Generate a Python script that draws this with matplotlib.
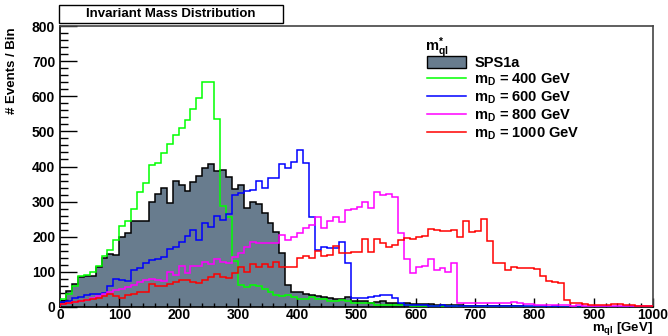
import numpy as np
import matplotlib
matplotlib.use("Agg")
import matplotlib.pyplot as plt
from matplotlib.patches import Rectangle, Patch
from matplotlib.lines import Line2D
from matplotlib.ticker import MultipleLocator

plt.rcParams['font.family'] = ['Liberation Sans', 'DejaVu Sans']
plt.rcParams['font.weight'] = 'bold'
plt.rcParams['mathtext.fontset'] = 'custom'
plt.rcParams['mathtext.rm'] = 'Liberation Sans:bold'
plt.rcParams['mathtext.it'] = 'Liberation Sans:bold'
plt.rcParams['mathtext.bf'] = 'Liberation Sans:bold'

# bin edges: 0..1000 GeV, 10 GeV bins
bin_edges = np.arange(0, 1001, 10)

sps1a = [15, 45, 65, 85, 88, 88, 114, 140, 152, 149,
         200, 211, 244, 244, 246, 300, 322, 338, 295, 358,
         346, 329, 355, 373, 396, 408, 386, 391, 370, 336,
         348, 283, 300, 293, 268, 240, 214, 155, 62, 44,
         42, 36, 33, 30, 29, 25, 24, 24, 29, 18,
         17, 18, 12, 15, 16, 12, 10, 9, 10, 9,
         8, 8, 9, 7, 6, 7, 5, 5, 4, 4,
         4, 3, 3, 3, 2, 2, 2, 2, 1, 1,
         1, 1, 1, 1, 0, 1, 0, 0, 1, 0,
         0, 0, 0, 0, 0, 0, 0, 0, 0, 0]

md400 = [23, 37, 61, 87, 91, 100, 118, 145, 163, 190,
         231, 244, 279, 327, 353, 405, 410, 439, 463, 491,
         510, 531, 563, 594, 640, 640, 536, 287, 255, 130,
         63, 57, 62, 59, 50, 43, 33, 30, 35, 29,
         24, 24, 29, 22, 22, 17, 17, 19, 17, 12,
         10, 10, 10, 7, 7, 6, 6, 5, 5, 4,
         3, 3, 3, 2, 2, 2, 2, 1, 1, 1,
         1, 1, 1, 1, 0, 1, 0, 0, 0, 0,
         0, 0, 0, 0, 0, 0, 0, 0, 0, 0,
         0, 0, 0, 0, 0, 0, 0, 0, 0, 0]

md600 = [14, 17, 26, 29, 33, 36, 36, 40, 59, 81,
         78, 74, 105, 110, 124, 133, 138, 141, 165, 172,
         184, 201, 220, 191, 239, 227, 258, 247, 266, 318,
         324, 331, 334, 358, 339, 366, 366, 408, 396, 412,
         446, 410, 256, 162, 172, 167, 168, 184, 125, 26,
         26, 26, 29, 31, 33, 33, 26, 12, 7, 6,
         5, 5, 4, 4, 5, 4, 4, 3, 4, 3,
         3, 3, 3, 2, 3, 2, 2, 2, 2, 2,
         2, 2, 1, 2, 1, 1, 1, 1, 1, 1,
         1, 1, 1, 1, 1, 0, 1, 0, 0, 0]

md800 = [8, 10, 13, 16, 20, 26, 30, 36, 42, 48,
         52, 57, 62, 70, 76, 80, 78, 74, 100, 92,
         117, 98, 117, 117, 129, 123, 136, 129, 126, 143,
         155, 170, 186, 181, 181, 183, 182, 206, 191, 198,
         210, 226, 234, 255, 226, 244, 255, 242, 277, 280,
         285, 298, 283, 327, 320, 321, 312, 212, 136, 98,
         113, 117, 138, 106, 110, 101, 125, 12, 12, 11,
         11, 12, 11, 10, 10, 10, 13, 10, 8, 8,
         7, 6, 6, 5, 5, 5, 4, 5, 4, 4,
         4, 3, 3, 3, 3, 3, 2, 2, 2, 2]

md1000 = [8, 11, 14, 18, 20, 22, 25, 30, 38, 30,
          27, 35, 36, 44, 44, 66, 60, 60, 65, 72,
          77, 76, 72, 67, 77, 86, 93, 85, 82, 96,
          113, 101, 123, 115, 123, 115, 127, 115, 113, 113,
          139, 146, 139, 160, 144, 148, 174, 154, 155, 158,
          158, 193, 156, 193, 181, 171, 177, 190, 196, 193,
          200, 203, 222, 218, 217, 215, 218, 199, 246, 213,
          215, 251, 187, 126, 124, 106, 113, 110, 112, 110,
          108, 88, 74, 72, 69, 20, 12, 12, 9, 6,
          5, 5, 6, 8, 9, 7, 5, 4, 3, 3]

labels = ["SPS1a", r"m$_{\mathrm{D}}$ = 400 GeV", r"m$_{\mathrm{D}}$ = 600 GeV",
          r"m$_{\mathrm{D}}$ = 800 GeV", r"m$_{\mathrm{D}}$ = 1000 GeV"]
legend_title = r"m$^{*}_{\mathrm{ql}}$"
line_colors = ["#00ff00", "#0000ff", "#ff00ff", "#ff0000"]
fill_color = "#687c8e"

W, H = 668, 336
fig = plt.figure(figsize=(W / 100, H / 100), dpi=100)
ax = fig.add_axes([60 / W, 1 - 307 / H, (653 - 60) / W, (307 - 26) / H])

ax.stairs(sps1a, bin_edges, fill=True, color=fill_color, zorder=1)
ax.stairs(sps1a, bin_edges, color="black", lw=1.1, zorder=2, baseline=0)
for vals, c in zip([md400, md600, md800, md1000], line_colors):
    ax.stairs(vals, bin_edges, color=c, lw=1.1, zorder=3)

ax.set_xlim(0, 1000)
ax.set_ylim(0, 800)
ax.xaxis.set_major_locator(MultipleLocator(100))
ax.xaxis.set_minor_locator(MultipleLocator(20))
ax.yaxis.set_major_locator(MultipleLocator(100))
ax.yaxis.set_minor_locator(MultipleLocator(20))
ax.tick_params(axis='y', which='major', direction='in', length=12, width=1.0, labelsize=10, pad=3.5)
ax.tick_params(axis='y', which='minor', direction='in', length=6, width=1.0)
ax.tick_params(axis='x', which='major', direction='in', length=6.5, width=1.0, labelsize=10, pad=1.0)
ax.tick_params(axis='x', which='minor', direction='in', length=3.2, width=1.0)
for lab in ax.get_xticklabels() + ax.get_yticklabels():
    lab.set_fontweight('bold')
for s in ['left', 'bottom']:
    ax.spines[s].set_linewidth(1.2)
    ax.spines[s].set_color('black')
for s in ['top', 'right']:
    ax.spines[s].set_linewidth(1.2)
    ax.spines[s].set_color('#444444')

# title box
fig.patches.append(Rectangle((59 / W, 1 - 23 / H), (283 - 59) / W, 18 / H,
                             transform=fig.transFigure, facecolor='white',
                             edgecolor='black', lw=1.0))
fig.text(171 / W, 1 - 14 / H, "Invariant Mass Distribution", ha='center', va='center',
         fontsize=9.5, fontweight='bold')

# axis labels
fig.text(12 / W, 1 - 27 / H, "# Events / Bin", rotation=90, ha='center', va='top',
         fontsize=9.5, fontweight='bold')
fig.text(653 / W, 1 - 331 / H, r"m$_{\mathrm{ql}}$ [GeV]", ha='right', va='baseline',
         fontsize=9.5, fontweight='bold')

# legend title and legend
fig.text(425 / W, 1 - 51 / H, legend_title, ha='left', va='baseline',
         fontsize=10.5, fontweight='bold')
handles = [Patch(facecolor=fill_color, edgecolor='black', lw=1.0)] + \
          [Line2D([], [], color=c, lw=1.1) for c in line_colors]
leg = ax.legend(handles, labels, loc='upper left',
                bbox_to_anchor=(427 / W, 1 - 56 / H), bbox_transform=fig.transFigure,
                frameon=False, fontsize=10.5, handlelength=2.7,
                handleheight=0.8, handletextpad=0.55, labelspacing=0.11,
                borderpad=0, borderaxespad=0)
for t in leg.get_texts():
    t.set_fontweight('bold')

fig.savefig("out.png", dpi=100)
